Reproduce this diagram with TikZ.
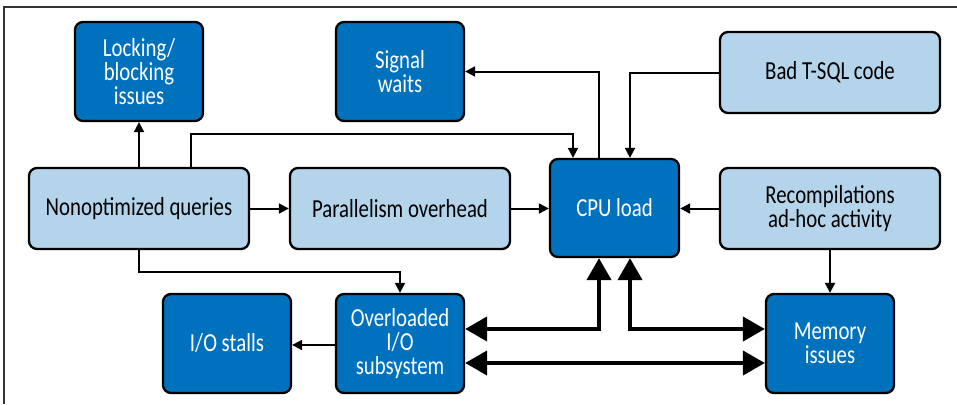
\documentclass[tikz,border=0pt]{standalone}
\usepackage{fontspec}
\setmainfont{Carlito}[FakeStretch=0.8]
\usetikzlibrary{arrows.meta}
\definecolor{dkblue}{HTML}{0071BC}
\definecolor{ltblue}{HTML}{B3D4EA}
\definecolor{framegray}{HTML}{333333}
\tikzset{
  box/.style={draw=black, line width=2.3pt, rounded corners=8pt, align=center,
    font=\fontsize{26}{24}\selectfont, inner sep=0pt},
  darkbox/.style={box, fill=dkblue, text=white, minimum width=128pt, minimum height=99pt},
  lightbox/.style={box, fill=ltblue, text=black, minimum width=220pt, minimum height=81pt},
  arr/.style={line width=2pt, -{Triangle[length=10pt,width=10pt]}},
  thk/.style={line width=4.2pt, {Triangle[length=22pt,width=24pt]}-{Triangle[length=22pt,width=24pt]}}
}
\begin{document}
\begin{tikzpicture}[x=1pt,y=-1pt]
\useasboundingbox (0,0) rectangle (957,404);
\draw[framegray, line width=1.5pt] (4,404) -- (4,7) -- (957,7);

\node[darkbox] (lock) at (139,71.5) {Locking/\\blocking\\issues};
\node[darkbox] (signal) at (400,71.5) {Signal\\waits};
\node[lightbox] (bad) at (830,72.5) {Bad T-SQL code};
\node[lightbox] (nonopt) at (139,208.5) {Nonoptimized queries};
\node[lightbox] (para) at (400,208.5) {Parallelism overhead};
\node[darkbox, minimum width=129pt, minimum height=98pt] (cpu) at (614.5,208) {CPU load};
\node[lightbox] (recomp) at (830,208.5) {Recompilations\\ad-hoc activity};
\node[darkbox] (iostall) at (227,343.5) {I/O stalls};
\node[darkbox] (overio) at (400,343.5) {Overloaded\\I/O\\subsystem};
\node[darkbox] (mem) at (830,343.5) {Memory\\issues};

\draw[arr] (nonopt.north) -- (lock.south);
\draw[arr] ([xshift=52pt]nonopt.north) -- ++(0,-33) -| ([xshift=-41.5pt]cpu.north);
\draw[arr] (bad.west) -| ([xshift=15.5pt]cpu.north);
\draw[arr] ([xshift=-15.5pt]cpu.north) |- (signal.east);
\draw[arr] (nonopt.east) -- (para.west);
\draw[arr] (para.east) -- (cpu.west |- para.east);
\draw[arr] (recomp.west) -- (cpu.east |- recomp.west);
\draw[arr] (recomp.south) -- (mem.north);
\draw[arr] (nonopt.south) -- ++(0,22) -| (overio.north);
\draw[arr] ([yshift=-1.5pt]overio.west) -- ([yshift=-1.5pt]iostall.east);

\draw[thk] ([yshift=14.5pt]overio.east) -| ([xshift=-15.5pt]cpu.south);
\draw[thk] ([xshift=15.5pt]cpu.south) |- ([yshift=14.5pt]mem.west);
\draw[thk] ([yshift=-19.5pt]overio.east) -- ([yshift=-19.5pt]mem.west);
\end{tikzpicture}
\end{document}
